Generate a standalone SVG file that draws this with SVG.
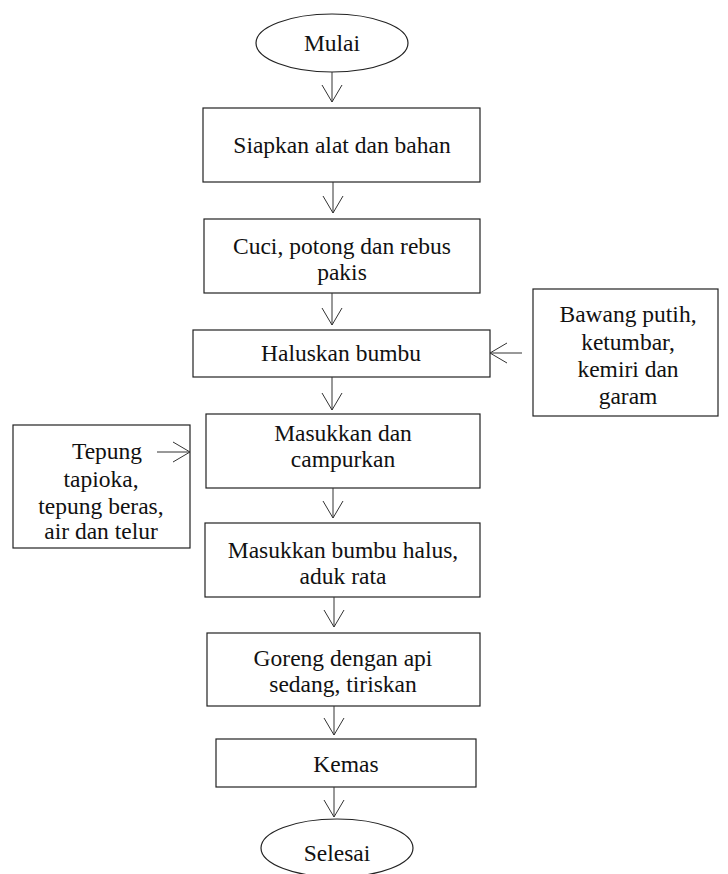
<svg xmlns="http://www.w3.org/2000/svg" width="728" height="874" viewBox="0 0 728 874">
<style>
.b{fill:#fff;stroke:#222;stroke-width:1.2}
.t{font-family:'Liberation Serif','Times New Roman',serif;font-size:23.5px;fill:#111;text-anchor:middle}
.c{stroke:#333;stroke-width:1;fill:none}
</style>
<defs>
<marker id="ah" markerUnits="userSpaceOnUse" markerWidth="20" markerHeight="24" viewBox="-18 -11 20 22" refX="0" refY="0" orient="auto">
<path d="M-17,-10 L0,0 L-17,10" fill="none" stroke="#333" stroke-width="1"/>
</marker>
</defs>
<rect width="728" height="874" fill="#fff"/>
<g id="mulai"><ellipse class="b" cx="332" cy="43" rx="76" ry="29"/><text class="t" x="332" y="51">Mulai</text></g>
<g id="siapkan"><rect class="b" x="203" y="108" width="277" height="74"/><text class="t" x="342" y="153">Siapkan alat dan bahan</text></g>
<g id="cuci"><rect class="b" x="204" y="219" width="276" height="74"/><text class="t" x="342" y="254">Cuci, potong dan rebus</text><text class="t" x="342" y="280">pakis</text></g>
<g id="haluskan"><rect class="b" x="193" y="330" width="297" height="47"/><text class="t" x="341" y="361">Haluskan bumbu</text></g>
<g id="bawang"><rect class="b" x="533" y="289" width="185" height="127"/><text class="t" x="628" y="322">Bawang putih,</text><text class="t" x="628" y="350">ketumbar,</text><text class="t" x="628" y="377">kemiri dan</text><text class="t" x="628" y="404">garam</text></g>
<g id="masukkan"><rect class="b" x="206" y="414" width="274" height="74"/><text class="t" x="343" y="441">Masukkan dan</text><text class="t" x="343" y="467">campurkan</text></g>
<g id="tepung"><rect class="b" x="13" y="425" width="177" height="123"/><text class="t" x="107" y="459">Tepung</text><text class="t" x="101" y="487">tapioka,</text><text class="t" x="101" y="514">tepung beras,</text><text class="t" x="101" y="539">air dan telur</text></g>
<g id="bumbuhalus"><rect class="b" x="205" y="523" width="275" height="74"/><text class="t" x="343" y="558">Masukkan bumbu halus,</text><text class="t" x="343" y="584">aduk rata</text></g>
<g id="goreng"><rect class="b" x="207" y="633" width="273" height="73"/><text class="t" x="343" y="666">Goreng dengan api</text><text class="t" x="343" y="692">sedang, tiriskan</text></g>
<g id="kemas"><rect class="b" x="216" y="739" width="260" height="48"/><text class="t" x="346" y="772">Kemas</text></g>
<g id="selesai"><ellipse class="b" cx="337" cy="848" rx="76" ry="29"/><text class="t" x="337" y="861">Selesai</text></g>
<g id="connectors">
<line class="c" x1="332" y1="72" x2="332" y2="102" marker-end="url(#ah)"/>
<line class="c" x1="333" y1="182" x2="333" y2="213" marker-end="url(#ah)"/>
<line class="c" x1="332" y1="293" x2="332" y2="325" marker-end="url(#ah)"/>
<line class="c" x1="332" y1="377" x2="332" y2="410" marker-end="url(#ah)"/>
<line class="c" x1="333" y1="488" x2="333" y2="518" marker-end="url(#ah)"/>
<line class="c" x1="334" y1="597" x2="334" y2="627" marker-end="url(#ah)"/>
<line class="c" x1="334" y1="706" x2="334" y2="735" marker-end="url(#ah)"/>
<line class="c" x1="334" y1="787" x2="334" y2="817" marker-end="url(#ah)"/>
<line class="c" x1="522" y1="353" x2="490" y2="353" marker-end="url(#ah)"/>
<line class="c" x1="157" y1="452" x2="190" y2="452" marker-end="url(#ah)"/>
</g>
</svg>
